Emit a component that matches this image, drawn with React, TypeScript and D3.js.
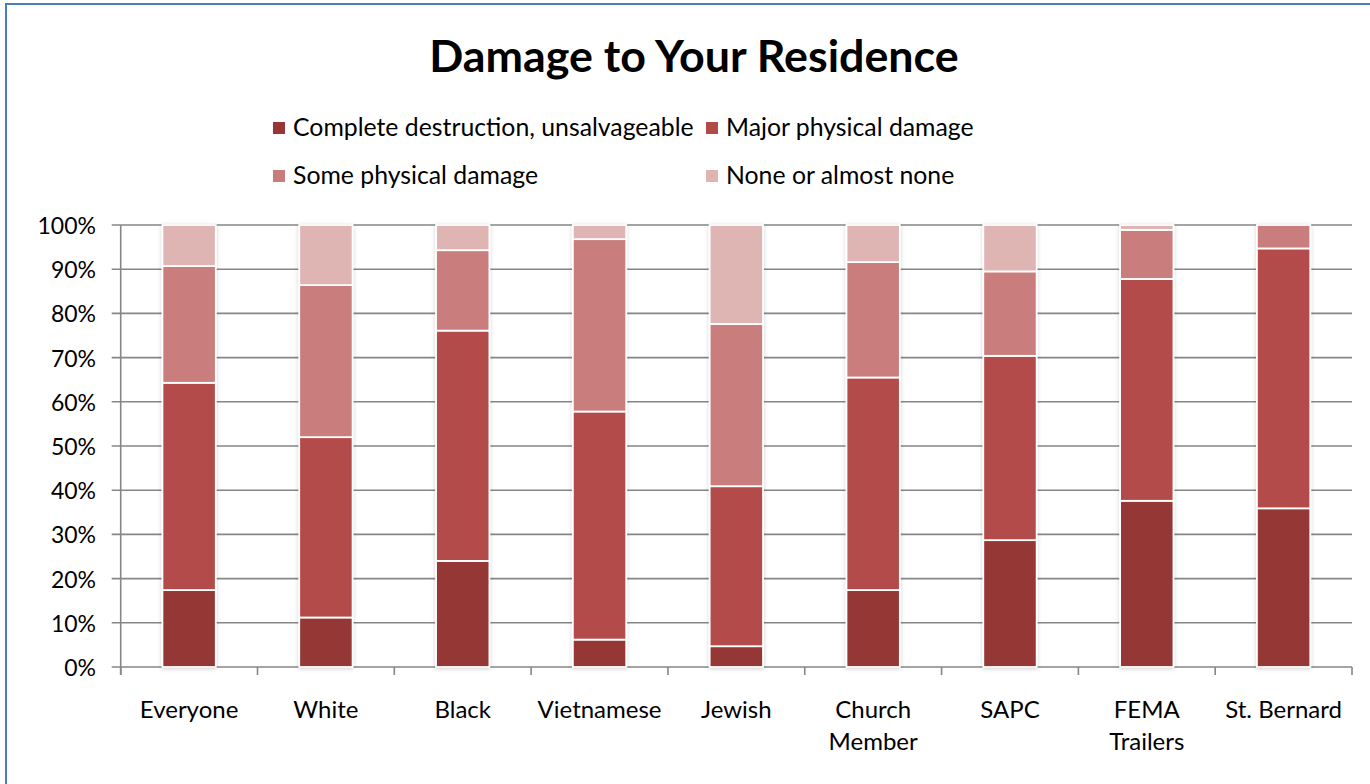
import React from "react";
import * as d3 from "d3";

const categories = ["Everyone", "White", "Black", "Vietnamese", "Jewish", "Church Member", "SAPC", "FEMA Trailers", "St. Bernard"];
const seriesNames = ["Complete destruction, unsalvageable", "Major physical damage", "Some physical damage", "None or almost none"];
const complete = [17.4, 11.2, 24.0, 6.2, 4.7, 17.4, 28.7, 37.6, 35.9];
const major = [46.9, 40.8, 52.1, 51.6, 36.2, 48.1, 41.7, 50.2, 58.8];
const some = [26.4, 34.4, 18.2, 39.0, 36.7, 26.1, 19.1, 11.1, 5.3];
const none = [9.3, 13.6, 5.7, 3.2, 22.4, 8.4, 10.5, 1.1, 0];
const yTicks = [0, 10, 20, 30, 40, 50, 60, 70, 80, 90, 100];
const colors = ["#953735", "#B24B48", "#C97D7B", "#DFB5B4"];

const W = 1370, H = 784;
const plot = { left: 120.7, right: 1352, top: 225, bottom: 667 };
const FONT = "Lato, 'Open Sans', sans-serif";

export default function App() {
  const rows = categories.map((c, i) => ({ cat: c, s0: complete[i], s1: major[i], s2: some[i], s3: none[i] }));
  const keys = ["s0", "s1", "s2", "s3"];
  const stacked = d3.stack<any>().keys(keys)(rows);
  const x = d3.scaleBand().domain(categories).range([plot.left, plot.right]).paddingInner(0).paddingOuter(0);
  const y = d3.scaleLinear().domain([0, 100]).range([plot.bottom, plot.top]);
  const bw = x.bandwidth() * 0.39;
  const tickXs = categories.map((c) => x(c)!).concat([plot.right]);

  const legendItems = [
    { i: 0, x: 273, y: 128 },
    { i: 1, x: 706, y: 128 },
    { i: 2, x: 273, y: 176 },
    { i: 3, x: 706, y: 176 },
  ];

  return (
    <svg width={W} height={H} style={{ position: "absolute", left: 0, top: 0, background: "#fff" }} fontFamily={FONT}>
      <defs>
        <filter id="sh" x="-20%" y="-5%" width="140%" height="110%">
          <feDropShadow dx="0" dy="1" stdDeviation="2" floodColor="#000" floodOpacity="0.18" />
        </filter>
      </defs>
      <rect x={6} y={4} width={W + 20} height={H + 20} fill="#fff" stroke="#4A7EBB" strokeWidth={2} />
      <text x={694} y={72} textAnchor="middle" fontWeight="bold" fontSize={44.8} fill="#000">Damage to Your Residence</text>

      {legendItems.map((l) => (
        <g key={l.i}>
          <rect x={l.x} y={l.y - 6} width={12} height={12} fill={colors[l.i]} />
          <text x={l.x + 20} y={l.y - 1.5} dominantBaseline="central" fontSize={24.8} fill="#000">{seriesNames[l.i]}</text>
        </g>
      ))}

      {/* gridlines */}
      {yTicks.map((t) => (
        <line key={t} x1={plot.left - 9} x2={plot.right} y1={y(t)} y2={y(t)} stroke="#868686" strokeWidth={1.6} />
      ))}
      <line x1={plot.left} x2={plot.left} y1={plot.top} y2={plot.bottom + 8} stroke="#868686" strokeWidth={1.6} />
      {tickXs.map((tx, i) => (
        <line key={i} x1={tx} x2={tx} y1={plot.bottom} y2={plot.bottom + 8} stroke="#868686" strokeWidth={1.6} />
      ))}
      {yTicks.map((t) => (
        <text key={t} x={96} y={y(t)} textAnchor="end" dominantBaseline="central" fontSize={23} fill="#000">{t}%</text>
      ))}

      {/* bars */}
      <g filter="url(#sh)">
        {stacked.map((layer, li) =>
          layer.map((d: any, i: number) => {
            const h = y(d[0]) - y(d[1]);
            if (h <= 0) return null;
            const cx = x(categories[i])! + x.bandwidth() / 2;
            return (
              <rect key={li + "-" + i} x={cx - bw / 2} y={y(d[1])} width={bw} height={h} fill={colors[li]} stroke="#fff" strokeWidth={1.8} />
            );
          })
        )}
      </g>

      {/* x labels */}
      {categories.map((c) => {
        const cx = x(c)! + x.bandwidth() / 2;
        const parts = c === "Church Member" ? ["Church", "Member"] : c === "FEMA Trailers" ? ["FEMA", "Trailers"] : [c];
        return (
          <text key={c} x={cx} y={718} textAnchor="middle" fontSize={24} fill="#000">
            {parts.map((p, k) => (
              <tspan key={k} x={cx} dy={k === 0 ? 0 : 32}>{p}</tspan>
            ))}
          </text>
        );
      })}
    </svg>
  );
}
